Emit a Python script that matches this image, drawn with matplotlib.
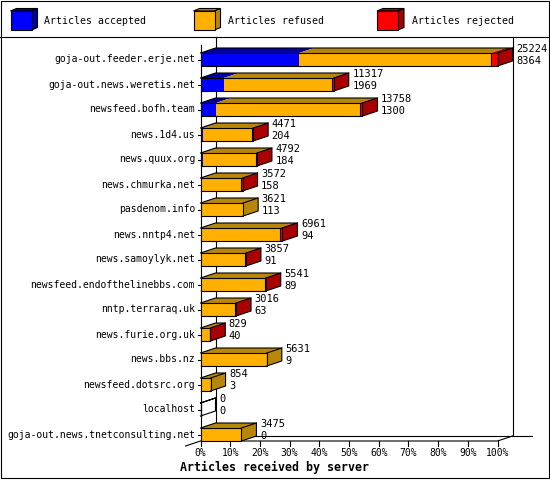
import numpy as np
import matplotlib
matplotlib.use("Agg")
import matplotlib.pyplot as plt
from matplotlib.patches import Polygon, Rectangle

# articles received by server (innreport style 3d bars)
servers = ["goja-out.feeder.erje.net", "goja-out.news.weretis.net", "newsfeed.bofh.team",
           "news.1d4.us", "news.quux.org", "news.chmurka.net", "pasdenom.info",
           "news.nntp4.net", "news.samoylyk.net", "newsfeed.endofthelinebbs.com",
           "nntp.terraraq.uk", "news.furie.org.uk", "news.bbs.nz", "newsfeed.dotsrc.org",
           "localhost", "goja-out.news.tnetconsulting.net"]
accepted = [8364, 1969, 1300, 204, 184, 158, 113, 94, 91, 89, 63, 40, 9, 3, 0, 0]
refused = [16320, 9228, 12228, 4157, 4548, 3314, 3508, 6617, 3706, 5412, 2903, 759, 5622, 851, 0, 3475]
rejected = [540, 120, 230, 110, 60, 100, 0, 250, 60, 40, 50, 30, 0, 0, 0, 0]

series = ["Articles accepted", "Articles refused", "Articles rejected"]
face = ["#0000ff", "#ffb000", "#ff0000"]
dark = ["#0000a8", "#b8860b", "#aa0000"]
ticks = list(range(0, 101, 10))

W, H = 550, 480
fig = plt.figure(figsize=(W / 100, H / 100), dpi=100)

# pixel layout of the plot
PX0, PX_PCT = 200.5, 2.97       # 0% at x px, px per percent
ROW0, ROW_PX = 59.5, 25.0       # first row centre, row pitch
DX = 15 / PX_PCT                # depth in percent
DY = -5 / ROW_PX                # depth in rows
HH = 6.5 / ROW_PX               # half bar height
LW = 0.8

ax = fig.add_axes([0, 0, 1, 1])
ax.set_xlim(-PX0 / PX_PCT, (W - PX0) / PX_PCT)
ax.set_ylim((H - ROW0) / ROW_PX, -ROW0 / ROW_PX)
ax.axis("off")

deco = fig.add_axes([0, 0, 1, 1], zorder=-1)
deco.set_xlim(0, W)
deco.set_ylim(H, 0)
deco.axis("off")

mono = "DejaVu Sans Mono"
n = len(servers)
totals = [a + r + j for a, r, j in zip(accepted, refused, rejected)]
vmax = max(totals)
top_y = (37 - ROW0) / ROW_PX
floor = n - 1 + HH

# walls and floor
ax.plot([DX, DX], [top_y, floor + DY], color="black", lw=LW, zorder=1)
ax.plot([100 + DX, 100 + DX], [top_y, floor + DY], color="black", lw=LW, zorder=1)
ax.plot([0, 0], [(45 - ROW0) / ROW_PX, floor], color="black", lw=LW, zorder=1)
ax.plot([-DX, 0, 100, 100 + DX], [floor - DY, floor, floor, floor + DY], color="black", lw=LW, zorder=1)
ax.plot([DX, 100 + DX + 19 / PX_PCT], [floor + DY, floor + DY], color="black", lw=LW, zorder=1)
for t in ticks:
    ax.plot([t, t], [floor, floor + 0.2], color="black", lw=LW, zorder=1)
    ax.text(t, floor + 0.5, f"{t}%", ha="center", va="center", fontsize=7, family=mono)

for i in range(n):
    y = i
    ax.plot([-1, 0], [y, y], color="black", lw=LW, zorder=1)
    ax.text((195 - PX0) / PX_PCT, y, servers[i], ha="right", va="center", fontsize=7, family=mono)

    vals = [accepted[i], refused[i], rejected[i]]
    left = 0.0
    last = None
    for k, v in enumerate(vals):
        if v <= 0:
            continue
        w = v / vmax * 100
        ax.add_patch(Rectangle((left, y - HH), w, 2 * HH, facecolor=face[k], edgecolor="none", zorder=3))
        ax.add_patch(Polygon([(left, y - HH), (left + w, y - HH), (left + w + DX, y - HH + DY),
                              (left + DX, y - HH + DY)], closed=True, facecolor=dark[k],
                             edgecolor="none", zorder=3))
        if k == 2:
            ax.plot([left, left], [y - HH, y + HH], color="black", lw=LW, zorder=4)
        left += w
        last = k
    xe = left
    if last is not None:
        ax.add_patch(Polygon([(xe, y - HH), (xe + DX, y - HH + DY), (xe + DX, y + HH + DY),
                              (xe, y + HH)], closed=True, facecolor=dark[last],
                             edgecolor="none", zorder=3))
    # outline
    ax.plot([0, xe, xe, 0, 0], [y + HH, y + HH, y - HH, y - HH, y + HH], color="black", lw=LW, zorder=4)
    ax.plot([0, DX, xe + DX, xe], [y - HH, y - HH + DY, y - HH + DY, y - HH], color="black", lw=LW, zorder=4)
    ax.plot([xe + DX, xe + DX, xe], [y - HH + DY, y + HH + DY, y + HH], color="black", lw=LW, zorder=4)

    tx = xe + DX + 3.5 / PX_PCT
    ax.text(tx, y - 0.41, str(totals[i]), ha="left", va="center", fontsize=7.5, family=mono, zorder=5)
    ax.text(tx, y + 0.05, str(accepted[i]), ha="left", va="center", fontsize=7.5, family=mono, zorder=5)

ax.text((180 - PX0) / PX_PCT, (467 - ROW0) / ROW_PX, "Articles received by server", ha="left",
        va="center", fontsize=8.4, family=mono, fontweight="bold")

# frame and legend
deco.add_patch(Rectangle((0.5, 0.5), W - 1.5, 478 - 0.5, facecolor="white", edgecolor="black", lw=LW))
deco.plot([0, W], [37, 37], color="black", lw=LW)
for k, (lx, tx) in enumerate(zip([10.5, 193.5, 377], [44.5, 228, 411.5])):
    x0, y0, w, h, dx, dy = lx, 11, 21, 19, 6, -2.5
    deco.add_patch(Polygon([(x0, y0), (x0 + w, y0), (x0 + w + dx, y0 + dy), (x0 + dx, y0 + dy)],
                           closed=True, facecolor=dark[k], edgecolor="black", lw=LW))
    deco.add_patch(Polygon([(x0 + w, y0), (x0 + w + dx, y0 + dy), (x0 + w + dx, y0 + h + dy), (x0 + w, y0 + h)],
                           closed=True, facecolor=dark[k], edgecolor="black", lw=LW))
    deco.add_patch(Rectangle((x0, y0), w, h, facecolor=face[k], edgecolor="black", lw=LW))
    deco.text(tx, 21, series[k], ha="left", va="center", fontsize=7.1, family=mono)

fig.savefig("out.png", dpi=100)
